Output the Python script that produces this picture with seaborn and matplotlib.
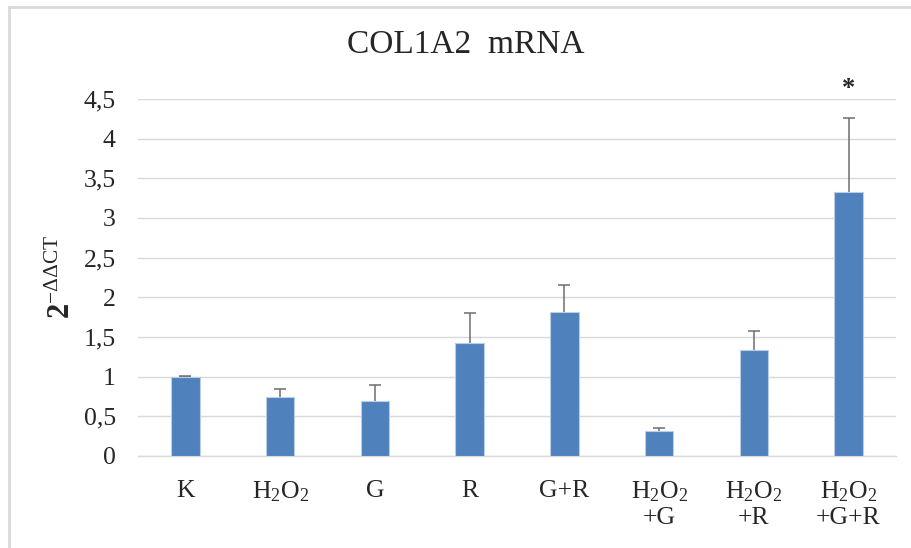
import matplotlib
matplotlib.use("Agg")
import matplotlib.pyplot as plt
import seaborn as sns
import pandas as pd
import numpy as np
from matplotlib.patches import Rectangle

categories = ["K", "H$_2$O$_2$", "G", "R", "G+R",
              "H$_2$O$_2$\n+G", "H$_2$O$_2$\n+R", "H$_2$O$_2$\n+G+R"]
values = [1.00, 0.75, 0.69, 1.42, 1.82, 0.31, 1.33, 3.33]
errors = [0.01, 0.10, 0.21, 0.38, 0.34, 0.04, 0.25, 0.93]
yticks = [0, 0.5, 1, 1.5, 2, 2.5, 3, 3.5, 4, 4.5]
ytick_labels = ["0", "0,5", "1", "1,5", "2", "2,5", "3", "3,5", "4", "4,5"]
title = "COL1A2  mRNA"
significance = ["", "", "", "", "", "", "", "*"]

sns.set_theme(style="white")
plt.rcParams['font.family'] = ['Liberation Serif', 'DejaVu Serif']
plt.rcParams['mathtext.fontset'] = 'custom'
plt.rcParams['mathtext.rm'] = 'Liberation Serif'
plt.rcParams['mathtext.it'] = 'Liberation Serif:italic'
plt.rcParams['mathtext.bf'] = 'Liberation Serif:bold'

df = pd.DataFrame({"cat": categories, "val": values})

fig = plt.figure(figsize=(9.12, 5.48), dpi=100)
ax = fig.add_axes([138/912, 1 - 456/548, (896-138)/912, (456-99)/548])

sns.barplot(data=df, x="cat", y="val", color="#4F81BD", width=0.3,
            edgecolor="#B9CDE5", linewidth=0.8, saturation=1, ax=ax, zorder=3)

xpos = np.arange(len(categories))
ax.errorbar(xpos, values, yerr=errors, fmt="none",
            ecolor="#6E6E6E", elinewidth=1.1, capsize=4.5, capthick=1.1, zorder=2)

for x, v, e, s in zip(xpos, values, errors, significance):
    if s:
        ax.text(x, 4.63, s, ha="center", va="center", fontsize=19,
                fontweight="bold", clip_on=False)

ax.set_ylim(0, 4.5)
ax.set_xlim(-0.5, len(categories) - 0.5)
ax.set_yticks(yticks)
ax.set_yticklabels(ytick_labels, fontsize=18.5)
ax.set_xticks(xpos)
ax.set_xticklabels(categories, fontsize=18.5, linespacing=1.15, va="top")
ax.tick_params(axis="x", length=0, pad=17)
ax.tick_params(axis="y", length=0, pad=16)
ax.yaxis.grid(True, color="#D9D9D9", linewidth=1.0, zorder=0)
ax.set_axisbelow(True)
for sp in ["top", "right", "left"]:
    ax.spines[sp].set_visible(False)
ax.spines["bottom"].set_color("#D9D9D9")
ax.spines["bottom"].set_linewidth(1.0)

ax.set_xlabel("")
ax.set_ylabel(r"$\mathbf{2}^{-\Delta\Delta \mathrm{CT}}$", fontsize=22, labelpad=5)

fig.text(466/912, 1 - 45/548, title, ha="center", va="center", fontsize=24)

fig.patches.append(Rectangle((9/912, -0.1), 1.2, 1 - 7/548 + 0.1,
                             transform=fig.transFigure, fill=False,
                             edgecolor="#D9D9D9", linewidth=2.0))

fig.savefig("out.png", dpi=100)
